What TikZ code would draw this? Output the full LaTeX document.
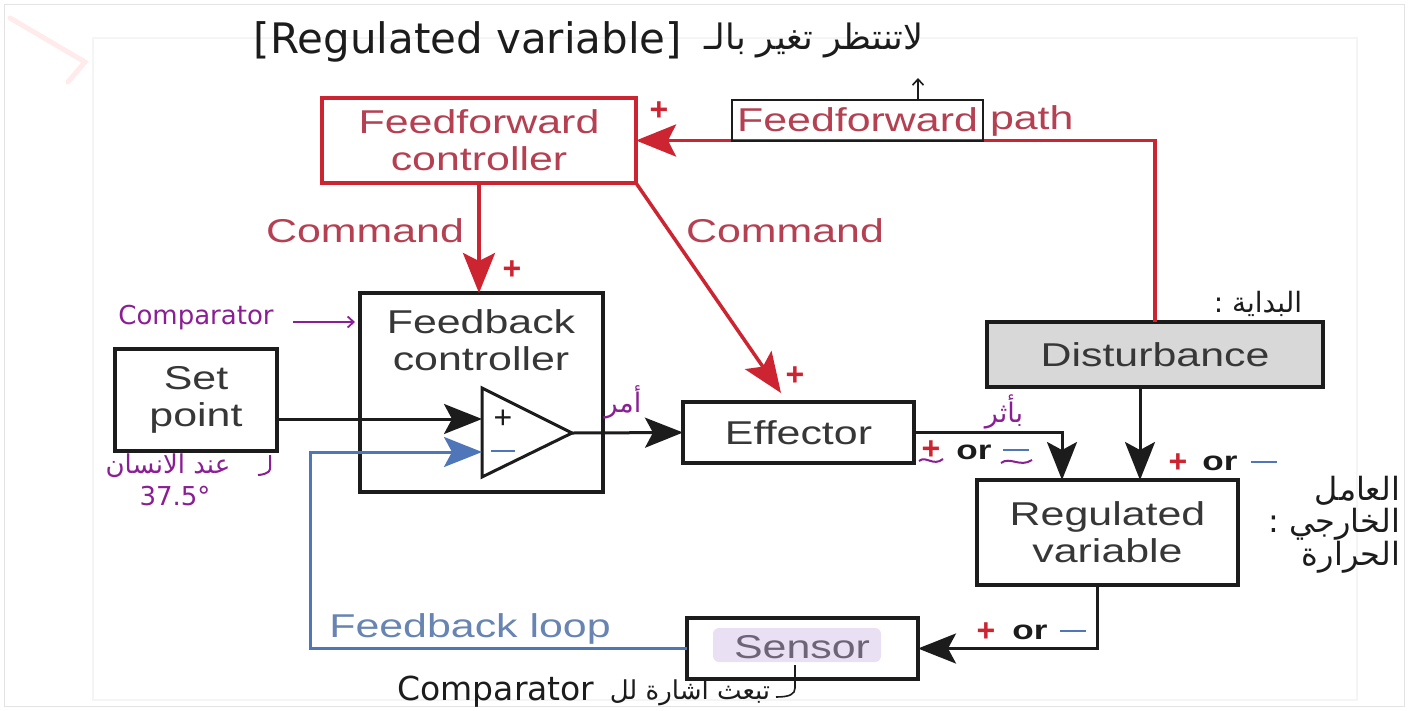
\documentclass[tikz,border=0pt]{standalone}
\usepackage{fontspec}
\usepackage{graphicx}
\setmainfont{Liberation Sans}
\newfontfamily\arabicfont[Script=Arabic]{DejaVu Sans}
\newfontfamily\handfont{DejaVu Sans}
\TeXXeTstate=1
\usetikzlibrary{arrows.meta,calc}
\definecolor{ffline}{RGB}{204,36,48}
\definecolor{fftext}{RGB}{180,64,82}
\definecolor{fbline}{RGB}{78,118,184}
\definecolor{fbtext}{RGB}{104,132,178}
\definecolor{pur}{RGB}{138,30,148}
\definecolor{ink}{RGB}{28,28,28}
\definecolor{boxtext}{RGB}{55,55,55}
\definecolor{distfill}{RGB}{216,216,216}
\definecolor{senshl}{RGB}{234,224,244}
\definecolor{sentext}{RGB}{110,100,120}
\newcommand{\hs}[1]{\scalebox{1.3}[1]{#1}}
\newcommand{\ar}[1]{{\arabicfont\beginR #1\endR}}
\begin{document}
\begin{tikzpicture}[x=1pt,y=-1pt,
  every node/.style={inner sep=0pt,outer sep=0pt},
  box/.style={draw=ink,line width=3.5pt,text=boxtext,align=center,
    font=\fontsize{33}{37}\selectfont},
  lbl/.style={font=\fontsize{33}{37}\selectfont},
  blk/.style={draw=ink,line width=3pt,-{Stealth[length=38pt,width=30pt,inset=8pt]}},
  redarr/.style={draw=ffline,line width=3.5pt,-{Stealth[length=40pt,width=32pt,inset=8pt]}},
  bluarr/.style={draw=fbline,line width=3pt,-{Stealth[length=38pt,width=30pt,inset=8pt]}},
  plusred/.style={text=ffline,font=\fontsize{32}{32}\bfseries\selectfont},
  ortxt/.style={text=ink,font=\fontsize{27}{27}\bfseries\selectfont},
  minblue/.style={text=fbline,font=\fontsize{28}{28}\selectfont},
  purtxt/.style={text=pur,font=\fontsize{27}{30}\selectfont},
  handtxt/.style={text=ink,font=\fontsize{30}{32}\selectfont}]
\useasboundingbox (0,0) rectangle (1410,710);
% faint frames
\draw[gray!22,line width=1pt] (4,4) rectangle (1404,706);
\draw[gray!8,line width=1.5pt] (93,38) rectangle (1357,700);
\draw[red!8,line width=5pt,line cap=round] (10,18) -- (85,62) -- (68,82);

% boxes
\node[box,draw=ffline,text=fftext,minimum width=314pt,minimum height=85pt] (ff) at (479,140.5)
  {\hs{Feedforward}\\\hs{controller}};
\node[box,minimum width=243pt,minimum height=199pt] (fb) at (481.5,392.5) {};
\node[lbl,text=boxtext,align=center] (fbt) at (481,340) {\hs{Feedback}\\\hs{controller}};
\node[box,minimum width=162pt,minimum height=102pt] (sp) at (196,400) {\hs{Set}\\\hs{point}};
\node[box,minimum width=231pt,minimum height=61pt] (eff) at (798.5,432.5) {\hs{Effector}};
\node[box,fill=distfill,minimum width=336pt,minimum height=65pt] (dist) at (1155,354.5) {\hs{Disturbance}};
\node[box,minimum width=261pt,minimum height=105pt] (rv) at (1107.5,532.5) {\hs{Regulated}\\\hs{variable}};
\node[box,minimum width=231pt,minimum height=61pt] (sen) at (802.5,648.5) {};
\node[fill=senshl,rounded corners=6pt,minimum width=168pt,minimum height=34pt] (senhl) at (797,645) {};
\node[lbl,text=sentext] (sent) at (802,647) {\hs{Sensor}};

% comparator triangle
\coordinate (ta) at (482,388);
\coordinate (tb) at (482,477);
\coordinate (tc) at (572,433);
\draw[ink,line width=3pt,line join=miter] (ta) -- (tc) -- (tb) -- cycle;
\node[text=ink,font=\fontsize{32}{32}\selectfont] (tplus) at (503,419) {+};
\node[text=fbline,font=\fontsize{28}{28}\selectfont] (tminus) at (503,451) {\rule{24pt}{2.6pt}};
\coordinate (pin) at (482,419);
\coordinate (min) at (482,452);

% connectors
\draw[blk] (pin -| sp.east) -- (pin);
\coordinate (bl) at (310,648.5);
\draw[bluarr] (sen.west) -- (bl) |- (min);
\draw[blk] (tc) -- (eff.west);
\draw[blk] (eff.east) -| ($(rv.north west)+(85,0)$);
\draw[blk] ($(dist.south)+(-15,0)$) -- ($(rv.north)+(32.5,0)$);
\draw[blk] ($(rv.south)+(-10,0)$) |- (sen.east);
\draw[redarr] (ff.south) -- (ff.south |- fb.north);
\coordinate (ctip) at (781,393);
\draw[redarr] (ff.south east) -- (ctip);
\draw[redarr] (dist.north) -- (dist.north |- ff.east) -- (ff.east);

% red labels
\node[lbl,text=fftext] (cmd1) at (365,231) {\hs{Command}};
\node[lbl,text=fftext] (cmd2) at (785,231) {\hs{Command}};
\node[plusred] (pl1) at (659,111) {+};
\node[plusred] (pl2) at (512,270) {+};
\node[plusred] (pl3) at (795,376) {+};
\node[lbl,text=fftext,draw=ink,line width=2pt,minimum width=251pt,minimum height=41pt] (ffw) at (857.5,120) {\hs{Feedforward}};
\node[lbl,text=fftext,anchor=west] (ffpath) at (990,121) {\hs{path}};
\coordinate (upt) at (918,78);
\draw[ink,line width=1.6pt,-{Straight Barb[length=6pt,width=11pt]}] (ffw.north -| upt) -- (upt);

% blue label
\node[lbl,text=fbtext] (fbl) at (470,629) {\hs{Feedback loop}};

% + or - labels
\node[plusred] (p1) at (1178,463) {+};
\node[ortxt] (o1) at (1220,463) {\hs{or}};
\node[minblue] (m1) at (1264,462) {\rule{26pt}{2.8pt}};
\node[plusred] (p2) at (986,632) {+};
\node[ortxt] (o2) at (1030,632) {\hs{or}};
\node[minblue] (m2) at (1073,631) {\rule{26pt}{2.8pt}};
\node[plusred] (p3) at (931,450) {+};
\node[ortxt] (o3) at (974,452) {\hs{or}};
\node[minblue] (m3) at (1016,450) {\rule{26pt}{2.8pt}};
\draw[pur,line width=2pt] (919,461) .. controls (926,455) and (933,467) .. (943,459);
\draw[pur,line width=2pt] (1001,463) .. controls (1010,456) and (1020,468) .. (1032,460);

% purple annotations
\node[purtxt,font=\handfont\fontsize{26}{28}\selectfont] (cmpn) at (196,318) {Comparator};
\coordinate (cmparr) at (355,322);
\draw[pur,line width=1.8pt,-{Straight Barb[length=6pt,width=11pt]}] (293,322) -- (cmparr);
\node[purtxt,font=\arabicfont\fontsize{26}{28}\selectfont] (sp1) at (168,466) {\ar{عند الانسان}};
\node[purtxt,font=\handfont\fontsize{26}{28}\selectfont] (sp2) at (175,496) {37.5°};
\draw[pur,line width=2pt] ($(sp.south east)+(-7,4)$) -- ++(0,14) .. controls +(0,4) and +(4,0) .. ++(-12,6);
\node[purtxt] (amr) at (623,402) {\ar{أمر}};
\node[purtxt] (bathr) at (1004,412) {\ar{بأثر}};

% right side annotations
\node[handtxt,font=\arabicfont\fontsize{28}{30}\selectfont] (bid) at (1258,304) {\ar{البداية :}};
\node[handtxt,align=right,anchor=east,font=\arabicfont\fontsize{32}{32}\selectfont] (amil) at (1400,525) {\ar{العامل}\\\ar{الخارجي :}\\\ar{الحرارة}};

% top annotations
\node[text=ink,font=\handfont\fontsize{42}{44}\selectfont] (topen) at (468,42) {[Regulated variable]};
\node[text=ink,font=\arabicfont\fontsize{35}{38}\selectfont] (topar) at (814,40) {\ar{لاتنتظر تغير بالـ}};

% bottom annotations
\node[handtxt,font=\handfont\fontsize{33}{34}\selectfont] (botcmp) at (496,692) {Comparator};
\node[handtxt,font=\arabicfont\fontsize{26}{28}\selectfont] (botar) at (690,693) {\ar{تبعث اشارة لل}};
\draw[ink,line width=1.6pt] (795,665) -- (795,688) .. controls (795,694) and (790,697) .. (776,697);
\end{tikzpicture}
\end{document}
